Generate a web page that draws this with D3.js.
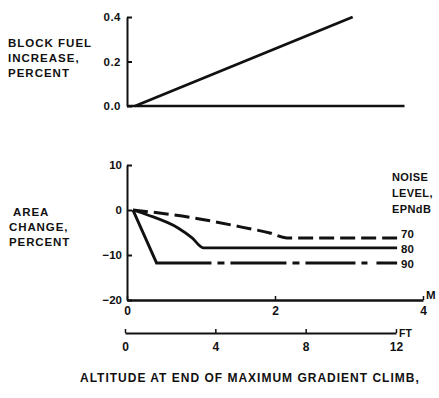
<!DOCTYPE html>
<html>
<head>
<meta charset="utf-8">
<script src="https://cdn.jsdelivr.net/npm/d3@7"></script>
<style>
  html, body { margin: 0; padding: 0; background: #fff; }
  svg { display: block; }
  text { font-family: "Liberation Sans", Arial, sans-serif; font-weight: bold; fill: #111; }
</style>
</head>
<body>
<svg id="chart" width="439" height="398"></svg>
<script>
// ---- data (x in km altitude) ----
const fuelX = [0.11, 3.05];
const fuelY = [0.0, 0.4];

const noise70X = [0.08, 0.3, 0.92, 1.55, 1.93, 2.16, 3.65];
const noise70Y = [0, -0.4, -1.8, -3.8, -5.1, -6.2, -6.2];

const noise80X = [0.08, 0.28, 0.69, 0.88, 1.03, 3.65];
const noise80Y = [0, -1.1, -4.0, -6.2, -8.4, -8.4];

const noise90X = [0.08, 0.4, 3.65];
const noise90Y = [0, -11.8, -11.8];

const seriesNames = ["70", "80", "90"];
const topTicks = [0.0, 0.2, 0.4];
const topTickLabels = ["0.0", "0.2", "0.4"];
const areaTicks = [10, 0, -10, -20];
const kmTicks = [0, 2, 4];
const ftTicks = [0, 4, 8, 12];

const svg = d3.select("#chart");
const ink = "#111";

const x = d3.scaleLinear().domain([0, 4]).range([127, 423]);
const xFt = d3.scaleLinear().domain([0, 12]).range([125, 396]);
const yTop = d3.scaleLinear().domain([0, 0.4]).range([106, 17]);
const yBot = d3.scaleLinear().domain([-20, 10]).range([300, 165]);

// ---- top panel ----
const gTopY = svg.append("g").attr("transform", `translate(${x(0)},0)`)
  .call(d3.axisLeft(yTop).tickValues(topTicks)
    .tickFormat((d, i) => topTickLabels[i]).tickSizeInner(-5).tickSizeOuter(0).tickPadding(6));
gTopY.select(".domain").attr("stroke", ink).attr("stroke-width", 2);
gTopY.selectAll(".tick line").attr("stroke", ink).attr("stroke-width", 2);
gTopY.selectAll("text").attr("font-size", 11.5).attr("letter-spacing", 0.5);

svg.append("line").attr("x1", x(0)).attr("x2", x(3.75))
  .attr("y1", yTop(0)).attr("y2", yTop(0)).attr("stroke", ink).attr("stroke-width", 2.5);

svg.append("path")
  .attr("d", d3.line().x((d, i) => x(fuelX[i])).y((d, i) => yTop(fuelY[i]))(fuelX))
  .attr("fill", "none").attr("stroke", ink).attr("stroke-width", 2.8);

const topLabel = ["BLOCK FUEL", "INCREASE,", "PERCENT"];
svg.append("g").selectAll("text").data(topLabel).join("text")
  .attr("x", 8).attr("y", (d, i) => 47 + i * 15)
  .attr("font-size", 11.5).attr("letter-spacing", 1).text(d => d);

// ---- bottom panel ----
const gBotY = svg.append("g").attr("transform", `translate(${x(0)},0)`)
  .call(d3.axisLeft(yBot).tickValues(areaTicks).tickSizeInner(-5).tickSizeOuter(0).tickPadding(5));
gBotY.select(".domain").attr("stroke", ink).attr("stroke-width", 2);
gBotY.selectAll(".tick line").attr("stroke", ink).attr("stroke-width", 2);
gBotY.selectAll("text").attr("font-size", 11.5);

const gKm = svg.append("g").attr("transform", `translate(0,${yBot(-20)})`)
  .call(d3.axisBottom(x).tickValues(kmTicks).tickFormat(d3.format("d"))
    .tickSizeInner(-4).tickSizeOuter(0).tickPadding(6));
gKm.select(".domain").attr("stroke", ink).attr("stroke-width", 2.5);
gKm.selectAll(".tick line").attr("stroke", ink).attr("stroke-width", 1.5);
gKm.selectAll("text").attr("font-size", 12).attr("font-weight", "normal");
svg.append("text").attr("x", x(4) + 3).attr("y", yBot(-20) - 1)
  .attr("font-size", 11.5).text("M");

const gFt = svg.append("g").attr("transform", `translate(0,333)`)
  .call(d3.axisBottom(xFt).tickValues(ftTicks).tickSizeInner(-4).tickSizeOuter(0).tickPadding(9));
gFt.select(".domain").attr("stroke", ink).attr("stroke-width", 2);
gFt.selectAll(".tick line").attr("stroke", ink).attr("stroke-width", 1.5);
gFt.selectAll("text").attr("font-size", 12).attr("font-weight", "normal");
svg.append("text").attr("x", xFt(12) + 3).attr("y", 337)
  .attr("font-size", 10.5).text("FT");

const series = [
  { xs: noise70X, ys: noise70Y, dash: "15,6", w: 3, labelDy: 0 },
  { xs: noise80X, ys: noise80Y, dash: null, w: 2.8, labelDy: 5 },
  { xs: noise90X, ys: noise90Y, dash: "113,6,7,6,56,6,7,6,50,6,6,9,30", w: 3, labelDy: 5 }
];
const lineGen = d3.line().curve(d3.curveMonotoneX);
series.forEach((s, k) => {
  const pts = s.xs.map((v, i) => [x(v), yBot(s.ys[i])]);
  const p = svg.append("path").attr("d", (k === 2 ? d3.line() : lineGen)(pts))
    .attr("fill", "none").attr("stroke", ink).attr("stroke-width", s.w);
  if (s.dash) p.attr("stroke-dasharray", s.dash);
  svg.append("text").attr("x", x(s.xs[s.xs.length - 1]) + 4)
    .attr("y", yBot(s.ys[s.ys.length - 1]) + s.labelDy)
    .attr("font-size", 11.5).attr("font-weight", "normal").text(seriesNames[k]);
});

const legendTitle = ["NOISE", "LEVEL,", "EPNdB"];
svg.append("g").selectAll("text").data(legendTitle).join("text")
  .attr("x", 392).attr("y", (d, i) => 181 + i * 16)
  .attr("font-size", 11).attr("letter-spacing", 0.4).text(d => d);

const botLabel = ["AREA", "CHANGE,", "PERCENT"];
svg.append("g").selectAll("text").data(botLabel).join("text")
  .attr("x", (d, i) => i === 0 ? 13 : 9).attr("y", (d, i) => 216 + i * 15)
  .attr("font-size", 11.5).attr("letter-spacing", 0.9).text(d => d);

svg.append("text").attr("x", 80).attr("y", 382)
  .attr("font-size", 12).attr("letter-spacing", 1.0)
  .text("ALTITUDE AT END OF MAXIMUM GRADIENT CLIMB,");
</script>
</body>
</html>
